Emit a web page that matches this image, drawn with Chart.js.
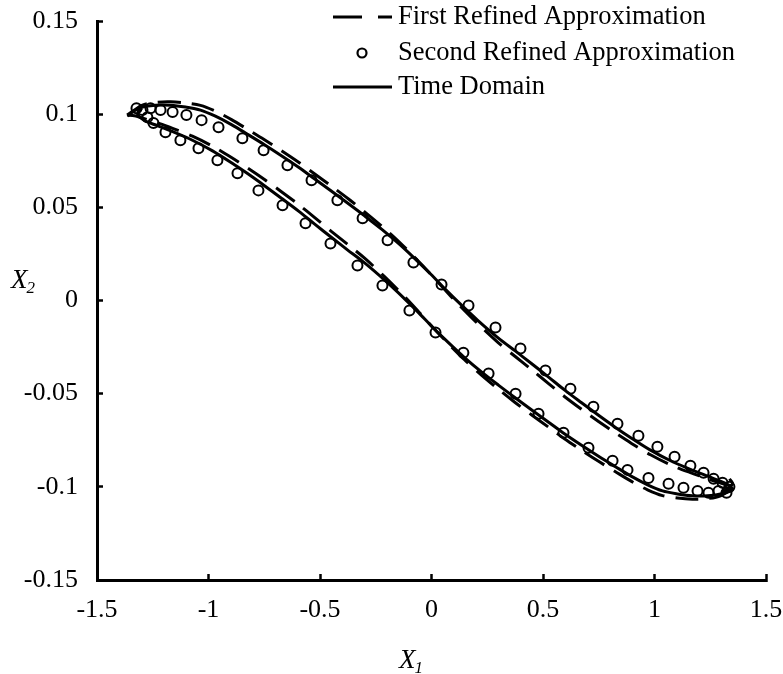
<!DOCTYPE html>
<html>
<head>
<meta charset="utf-8">
<script src="https://cdn.jsdelivr.net/npm/chart.js@4.4.1/dist/chart.umd.min.js"></script>
<style>
  body { margin: 0; background: #fff; }
  canvas { display: block; }
</style>
</head>
<body>
<canvas id="loopChart" width="783" height="674"></canvas>
<script>
// axis ticks
const xTickValues = [-1.5, -1, -0.5, 0, 0.5, 1, 1.5];
const xTickLabels = ["-1.5", "-1", "-0.5", "0", "0.5", "1", "1.5"];
const yTickValues = [-0.15, -0.1, -0.05, 0, 0.05, 0.1, 0.15];
const yTickLabels = ["-0.15", "-0.1", "-0.05", "0", "0.05", "0.1", "0.15"];

// Time Domain (solid): upper branch from the left tail, round the right tip, back along the lower branch
const timeX = [
  -1.363, -1.336, -1.296, -1.238, -1.170, -1.103, -1.036, -0.969, -0.897, -0.825,
  -0.749, -0.673, -0.596, -0.525, -0.448, -0.372, -0.300, -0.224, -0.148, -0.076,
  -0.004, 0.058, 0.117, 0.206, 0.300, 0.377, 0.448, 0.525, 0.596, 0.673,
  0.749, 0.825, 0.897, 0.982, 1.072, 1.161, 1.229, 1.287, 1.327, 1.350,
  1.296, 1.238, 1.170, 1.103, 1.036, 0.969, 0.897, 0.825, 0.749, 0.673,
  0.596, 0.525, 0.448, 0.372, 0.300, 0.224, 0.148, 0.076, 0.004, -0.058,
  -0.117, -0.206, -0.300, -0.377, -0.448, -0.525, -0.596, -0.673, -0.749, -0.825,
  -0.897, -0.982, -1.072, -1.161, -1.229, -1.287, -1.318, -1.300,
  null, 1.300, 1.336, 1.350, 1.336
];
const timeY = [
  0.0989, 0.1016, 0.1038, 0.1048, 0.1048, 0.1038, 0.1022, 0.0989, 0.0944, 0.0892,
  0.0836, 0.0777, 0.0715, 0.0653, 0.0586, 0.0519, 0.0454, 0.0383, 0.0306, 0.0226,
  0.0142, 0.0065, -0.0005, -0.0105, -0.0202, -0.0272, -0.0338, -0.0411, -0.0480, -0.0549,
  -0.0616, -0.0681, -0.0739, -0.0803, -0.0860, -0.0906, -0.0938, -0.0966, -0.0987, -0.1016,
  -0.1038, -0.1048, -0.1048, -0.1038, -0.1022, -0.0989, -0.0944, -0.0892, -0.0836, -0.0777,
  -0.0715, -0.0653, -0.0586, -0.0519, -0.0454, -0.0383, -0.0306, -0.0226, -0.0142, -0.0065,
  0.0005, 0.0105, 0.0202, 0.0272, 0.0338, 0.0411, 0.0480, 0.0549, 0.0616, 0.0681,
  0.0739, 0.0803, 0.0860, 0.0906, 0.0938, 0.0966, 0.1000, 0.1030,
  null, -0.1030, -0.1005, -0.0980, -0.0957
];

// First Refined Approximation (dashed)
const firstX = [
  -1.365, -1.296, -1.238, -1.170, -1.103, -1.036, -0.969, -0.897, -0.825, -0.749,
  -0.673, -0.596, -0.525, -0.448, -0.372, -0.300, -0.224, -0.148, -0.076, -0.004,
  0.058, 0.117, 0.206, 0.300, 0.377, 0.448, 0.525, 0.596, 0.673, 0.749,
  0.825, 0.897, 0.982, 1.072, 1.161, 1.229, 1.287, 1.332, 1.365,
  1.296, 1.238, 1.170, 1.103, 1.036, 0.969, 0.897, 0.825, 0.749, 0.673,
  0.596, 0.525, 0.448, 0.372, 0.300, 0.224, 0.148, 0.076, 0.004, -0.058,
  -0.117, -0.206, -0.300, -0.377, -0.448, -0.525, -0.596, -0.673, -0.749, -0.825,
  -0.897, -0.982, -1.072, -1.161, -1.229, -1.287, -1.332, -1.365
];
const firstY = [
  0.0995, 0.1048, 0.1063, 0.1066, 0.1060, 0.1047, 0.1016, 0.0971, 0.0919, 0.0863,
  0.0804, 0.0742, 0.0680, 0.0613, 0.0545, 0.0476, 0.0400, 0.0318, 0.0232, 0.0142,
  0.0060, -0.0016, -0.0123, -0.0227, -0.0302, -0.0370, -0.0446, -0.0515, -0.0584, -0.0649,
  -0.0711, -0.0767, -0.0828, -0.0882, -0.0924, -0.0953, -0.0976, -0.0992, -0.0995,
  -0.1048, -0.1063, -0.1066, -0.1060, -0.1047, -0.1016, -0.0971, -0.0919, -0.0863, -0.0804,
  -0.0742, -0.0680, -0.0613, -0.0545, -0.0476, -0.0400, -0.0318, -0.0232, -0.0142, -0.0060,
  0.0016, 0.0123, 0.0227, 0.0302, 0.0370, 0.0446, 0.0515, 0.0584, 0.0649, 0.0711,
  0.0767, 0.0828, 0.0882, 0.0924, 0.0953, 0.0976, 0.0992, 0.0995
];

// Second Refined Approximation (circles)
const secondX = [
  -1.323, -1.296, -1.260, -1.215, -1.161, -1.099, -1.031, -0.955, -0.848, -0.753,
  -0.646, -0.538, -0.422, -0.309, -0.197, -0.081, 0.045, 0.166, 0.287, 0.399,
  0.511, 0.623, 0.726, 0.834, 0.928, 1.013, 1.090, 1.161, 1.220, 1.265,
  1.305, 1.336,
  -1.274, -1.247, -1.193, -1.126, -1.045, -0.960, -0.870, -0.776, -0.668, -0.565,
  -0.453, -0.332, -0.220, -0.099, 0.018, 0.143, 0.256, 0.377, 0.480, 0.592,
  0.704, 0.812, 0.879, 0.973, 1.063, 1.130, 1.193, 1.242, 1.287, 1.323
];
const secondY = [
  0.1032, 0.1022, 0.1032, 0.1022, 0.1011, 0.0995, 0.0968, 0.0930, 0.0871, 0.0806,
  0.0726, 0.0645, 0.0538, 0.0441, 0.0323, 0.0204, 0.0086, -0.0027, -0.0145, -0.0258,
  -0.0376, -0.0473, -0.0570, -0.0661, -0.0726, -0.0785, -0.0839, -0.0887, -0.0925, -0.0957,
  -0.0978, -0.1000,
  0.0984, 0.0952, 0.0903, 0.0860, 0.0817, 0.0753, 0.0683, 0.0591, 0.0511, 0.0414,
  0.0306, 0.0188, 0.0081, -0.0054, -0.0172, -0.0280, -0.0392, -0.0500, -0.0608, -0.0710,
  -0.0790, -0.0860, -0.0909, -0.0952, -0.0984, -0.1005, -0.1022, -0.1032, -0.1022, -0.1032
];

function toPoints(xs, ys) {
  return xs.map((x, i) => ({ x: x, y: ys[i] }));
}

const SERIF = '"Liberation Serif", "Times New Roman", serif';

const cornerLegend = {
  id: "cornerLegend",
  afterDraw(chart) {
    const ctx = chart.ctx;
    ctx.save();
    ctx.strokeStyle = "#000";
    ctx.fillStyle = "#000";

    ctx.lineWidth = 3;
    ctx.setLineDash([29, 16]);
    ctx.beginPath();
    ctx.moveTo(333, 17);
    ctx.lineTo(392, 17);
    ctx.stroke();

    ctx.setLineDash([]);
    ctx.beginPath();
    ctx.moveTo(333, 87);
    ctx.lineTo(392, 87);
    ctx.stroke();

    ctx.lineWidth = 2.2;
    ctx.beginPath();
    ctx.arc(362, 53, 4.5, 0, Math.PI * 2);
    ctx.stroke();

    ctx.font = "26.5px " + SERIF;
    ctx.textBaseline = "middle";
    ctx.textAlign = "left";
    ctx.fillText("First Refined Approximation", 398, 17);
    ctx.fillText("Second Refined Approximation", 398, 53);
    ctx.fillText("Time Domain", 398, 87);
    ctx.restore();
  }
};

function drawSubTitle(ctx, main, sub, x, y) {
  ctx.font = "italic 27px " + SERIF;
  ctx.fillText(main, x, y);
  const w = ctx.measureText(main).width;
  ctx.font = "italic 17px " + SERIF;
  ctx.fillText(sub, x + w - 1, y + 5);
}

const axisTitles = {
  id: "axisTitles",
  afterDraw(chart) {
    const ctx = chart.ctx;
    ctx.save();
    ctx.fillStyle = "#000";
    ctx.textBaseline = "alphabetic";
    ctx.textAlign = "left";
    drawSubTitle(ctx, "X", "2", 11, 288);
    drawSubTitle(ctx, "X", "1", 399, 668);
    ctx.restore();
  }
};

new Chart(document.getElementById("loopChart"), {
  type: "scatter",
  data: {
    datasets: [
      {
        label: "Second Refined Approximation",
        data: toPoints(secondX, secondY),
        showLine: false,
        pointStyle: "circle",
        pointRadius: 5,
        pointBorderWidth: 2,
        pointBorderColor: "#000",
        pointBackgroundColor: "rgba(0,0,0,0)"
      },
      {
        label: "First Refined Approximation",
        data: toPoints(firstX, firstY),
        showLine: true,
        borderColor: "#000",
        borderWidth: 3,
        borderDash: [23, 11],
        tension: 0.3,
        pointRadius: 0
      },
      {
        label: "Time Domain",
        data: toPoints(timeX, timeY),
        showLine: true,
        spanGaps: false,
        borderColor: "#000",
        borderWidth: 3,
        tension: 0.3,
        pointRadius: 0
      }
    ]
  },
  options: {
    responsive: false,
    animation: false,
    devicePixelRatio: 1,
    layout: { padding: { left: 0, right: 17, top: 21, bottom: 0 } },
    plugins: {
      legend: { display: false },
      tooltip: { enabled: false }
    },
    scales: {
      x: {
        type: "linear",
        min: -1.5,
        max: 1.5,
        afterBuildTicks: (scale) => { scale.ticks = xTickValues.map((v) => ({ value: v })); },
        afterFit: (scale) => { scale.height = 94; scale.paddingLeft = 0; scale.paddingRight = 0; },
        border: { display: true, color: "#000", width: 3 },
        grid: { drawOnChartArea: false, drawTicks: true, tickLength: -6, tickWidth: 2.5, tickColor: "#000" },
        ticks: {
          padding: 21,
          color: "#000",
          font: { family: SERIF, size: 26 },
          maxRotation: 0,
          autoSkip: false,
          callback: (value, index) => xTickLabels[index]
        }
      },
      y: {
        type: "linear",
        min: -0.15,
        max: 0.15,
        afterBuildTicks: (scale) => { scale.ticks = yTickValues.map((v) => ({ value: v })); },
        afterFit: (scale) => { scale.width = 97; scale.paddingTop = 0; scale.paddingBottom = 0; },
        border: { display: true, color: "#000", width: 3 },
        grid: { drawOnChartArea: false, drawTicks: true, tickLength: -6, tickWidth: 2.5, tickColor: "#000" },
        ticks: {
          padding: 25,
          color: "#000",
          font: { family: SERIF, size: 26 },
          autoSkip: false,
          callback: (value, index) => yTickLabels[index]
        }
      }
    }
  },
  plugins: [cornerLegend, axisTitles]
});
</script>
</body>
</html>
